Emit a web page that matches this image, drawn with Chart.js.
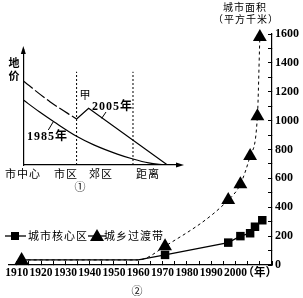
<!DOCTYPE html>
<html>
<head>
<meta charset="utf-8">
<script src="https://cdn.jsdelivr.net/npm/chart.js@4.4.1/dist/chart.umd.min.js"></script>
<style>
  body { margin: 0; background: #fff; }
  #wrap { position: relative; width: 303px; height: 298px; }
  #wrap canvas { position: absolute; left: 0; top: 0; }
</style>
</head>
<body>
<div id="wrap">
  <canvas id="areaChart" width="303" height="298"></canvas>
  <canvas id="priceChart" width="303" height="298"></canvas>
</div>
<script>
// ② 城市面积（平方千米）
const coreYears = [1912, 1960, 1971, 1997, 2002, 2006, 2008, 2011];
const coreArea = [35, 35, 70, 155, 200, 220, 265, 310];
const fringeYears = [1912, 1960, 1971, 1997, 2002, 2006, 2009, 2010];
const fringeArea = [35, 35, 130, 450, 560, 755, 1030, 1580];
const yearLabels = [1910, 1920, 1930, 1940, 1950, 1960, 1970, 1980, 1990, 2000];

// ① 地价与距离（示意，相对值）
const dist1985 = [0, 1, 2, 3.4, 4.5, 6, 7, 8, 9];
const price1985 = [5.65, 4.65, 3.72, 2.5, 1.75, 0.95, 0.52, 0.18, 0];
const dist2005a = [0, 1.7, 3.4];
const price2005a = [7.3, 5.5, 4.0];
const dist2005b = [3.4, 4.17, 9.2];
const price2005b = [4.0, 4.93, 0];
const zoneBounds = [3.4, 7];

const SERIF = "'Liberation Serif', 'Times New Roman', 'Noto Sans CJK SC', serif";
const CJK = "'Noto Sans CJK SC', sans-serif";

function toXY(xs, ys) {
    return xs.map((x, i) => ({ x: x, y: ys[i] }));
}

function text(ctx, str, x, y, font, align, spacing) {
    ctx.save();
    ctx.font = font;
    ctx.fillStyle = '#000';
    ctx.textAlign = align || 'left';
    ctx.textBaseline = 'middle';
    ctx.letterSpacing = (spacing || 0) + 'px';
    ctx.fillText(str, x, y);
    ctx.restore();
}

function line(ctx, x1, y1, x2, y2, w) {
    ctx.save();
    ctx.strokeStyle = '#000';
    ctx.lineWidth = w || 1;
    ctx.beginPath();
    ctx.moveTo(x1, y1);
    ctx.lineTo(x2, y2);
    ctx.stroke();
    ctx.restore();
}

function poly(ctx, pts) {
    ctx.save();
    ctx.fillStyle = '#000';
    ctx.beginPath();
    ctx.moveTo(pts[0][0], pts[0][1]);
    pts.slice(1).forEach(p => ctx.lineTo(p[0], p[1]));
    ctx.closePath();
    ctx.fill();
    ctx.restore();
}

// titles, legend and figure number of ②
const areaText = {
    id: 'areaText',
    afterDraw(chart) {
        const ctx = chart.ctx;
        text(ctx, '城市面积', 245, 7, '10px ' + CJK, 'center', 1);
        text(ctx, '（平方千米）', 246, 19, '10px ' + CJK, 'center', 1);
        // legend
        line(ctx, 5, 236, 26, 236, 1.3);
        ctx.fillStyle = '#000';
        ctx.fillRect(11, 232, 8, 8);
        text(ctx, '城市核心区', 28, 236, '11px ' + CJK, 'left', 1);
        line(ctx, 88, 236, 106, 236, 1.3);
        poly(ctx, [[97, 229], [90, 241], [104, 241]]);
        text(ctx, '城乡过渡带', 104, 236, '11px ' + CJK, 'left', 1);
        text(ctx, '②', 137, 291, '11px ' + CJK, 'center');
    }
};

// labels and arrows of ①
const priceText = {
    id: 'priceText',
    afterDraw(chart) {
        const ctx = chart.ctx;
        const a = chart.chartArea;
        poly(ctx, [[a.left, a.top - 4], [a.left - 2.5, a.top + 4], [a.left + 2.5, a.top + 4]]);
        poly(ctx, [[a.right + 4, a.bottom], [a.right - 4, a.bottom - 2.5], [a.right - 4, a.bottom + 2.5]]);
        text(ctx, '地', 14, 63, 'bold 11px ' + CJK, 'center');
        text(ctx, '价', 14, 76, 'bold 11px ' + CJK, 'center');
        text(ctx, '甲', 85, 95, '11px ' + CJK, 'center');
        text(ctx, '2005年', 92, 107, 'bold 12px ' + SERIF, 'left', 1);
        text(ctx, '1985年', 27, 137, 'bold 12px ' + SERIF, 'left', 1);
        line(ctx, 106, 112, 101.7, 118.3);
        line(ctx, 48.3, 130, 53.3, 121.7);
        text(ctx, '市中心', 23, 174, '11px ' + CJK, 'center', 1);
        text(ctx, '市区', 66, 174, '11px ' + CJK, 'center', 1);
        text(ctx, '郊区', 101, 174, '11px ' + CJK, 'center', 1);
        text(ctx, '距离', 148, 174, '11px ' + CJK, 'center', 1);
        text(ctx, '①', 80, 187, '11px ' + CJK, 'center');
    }
};

new Chart(document.getElementById('areaChart'), {
    type: 'line',
    data: {
        datasets: [
            {
                label: '城乡过渡带',
                data: toXY(fringeYears, fringeArea),
                borderColor: '#000',
                backgroundColor: '#000',
                borderWidth: 1,
                borderDash: [3, 3],
                cubicInterpolationMode: 'monotone',
                pointStyle: 'triangle',
                pointRadius: c => c.dataIndex === 1 ? 0 : 8,
                pointBorderWidth: 0
            },
            {
                label: '城市核心区',
                data: toXY(coreYears, coreArea),
                borderColor: '#000',
                backgroundColor: '#000',
                borderWidth: 1.3,
                pointStyle: 'rect',
                pointRadius: c => c.dataIndex < 2 ? 0 : 6,
                pointBorderWidth: 0
            }
        ]
    },
    options: {
        responsive: false,
        animation: false,
        events: [],
        clip: false,
        layout: { padding: { left: 7, top: 34, right: 3, bottom: 3 } },
        plugins: { legend: { display: false }, tooltip: { enabled: false } },
        scales: {
            x: {
                type: 'linear',
                position: 'bottom',
                min: 1906.5,
                max: 2015,
                grid: { drawOnChartArea: false, tickLength: -4, color: '#000' },
                border: { color: '#000', width: 1.2 },
                ticks: {
                    stepSize: 5,
                    includeBounds: false,
                    autoSkip: false,
                    maxRotation: 0,
                    padding: 5,
                    color: '#000',
                    font: { family: SERIF, size: 11.5, weight: 'bold' },
                    callback: v => v === 2010 ? '（年）' : (yearLabels.includes(v) ? String(v) : '')
                },
                afterFit: s => { s.height = 30; }
            },
            y: {
                position: 'right',
                min: 0,
                max: 1600,
                grid: { drawOnChartArea: false, tickLength: -4, color: '#000' },
                border: { color: '#000', width: 1.2 },
                ticks: {
                    stepSize: 100,
                    autoSkip: false,
                    padding: 7,
                    color: '#000',
                    font: { family: SERIF, size: 12, weight: 'bold' },
                    callback: v => v % 200 === 0 ? String(v) : ''
                },
                afterFit: s => { s.width = 28; }
            }
        }
    },
    plugins: [areaText]
});

new Chart(document.getElementById('priceChart'), {
    type: 'line',
    data: {
        datasets: [
            {
                label: '1985年',
                data: toXY(dist1985, price1985),
                borderColor: '#000',
                borderWidth: 1.2,
                cubicInterpolationMode: 'monotone',
                pointRadius: 0
            },
            {
                label: '2005年 市区',
                data: toXY(dist2005a, price2005a),
                borderColor: '#000',
                borderWidth: 1.2,
                borderDash: [12, 3],
                cubicInterpolationMode: 'monotone',
                pointRadius: 0
            },
            {
                label: '2005年',
                data: toXY(dist2005b, price2005b),
                borderColor: '#000',
                borderWidth: 1.2,
                pointRadius: 0
            },
            ...zoneBounds.map(b => ({
                label: 'zone',
                data: [{ x: b, y: 0 }, { x: b, y: 8.1 }],
                borderColor: '#000',
                borderWidth: 1,
                borderDash: [2, 2],
                pointRadius: 0
            }))
        ]
    },
    options: {
        responsive: false,
        animation: false,
        events: [],
        layout: { padding: { left: 23.3, top: 50, right: 123, bottom: 133 } },
        plugins: { legend: { display: false }, tooltip: { enabled: false } },
        scales: {
            x: {
                type: 'linear', min: 0, max: 10,
                grid: { display: false, drawTicks: false },
                border: { color: '#000', width: 1.2 },
                ticks: { display: false },
                afterFit: s => { s.height = 0; }
            },
            y: {
                min: 0, max: 10,
                grid: { display: false, drawTicks: false },
                border: { color: '#000', width: 1.2 },
                ticks: { display: false },
                afterFit: s => { s.width = 0; }
            }
        }
    },
    plugins: [priceText]
});
</script>
</body>
</html>
